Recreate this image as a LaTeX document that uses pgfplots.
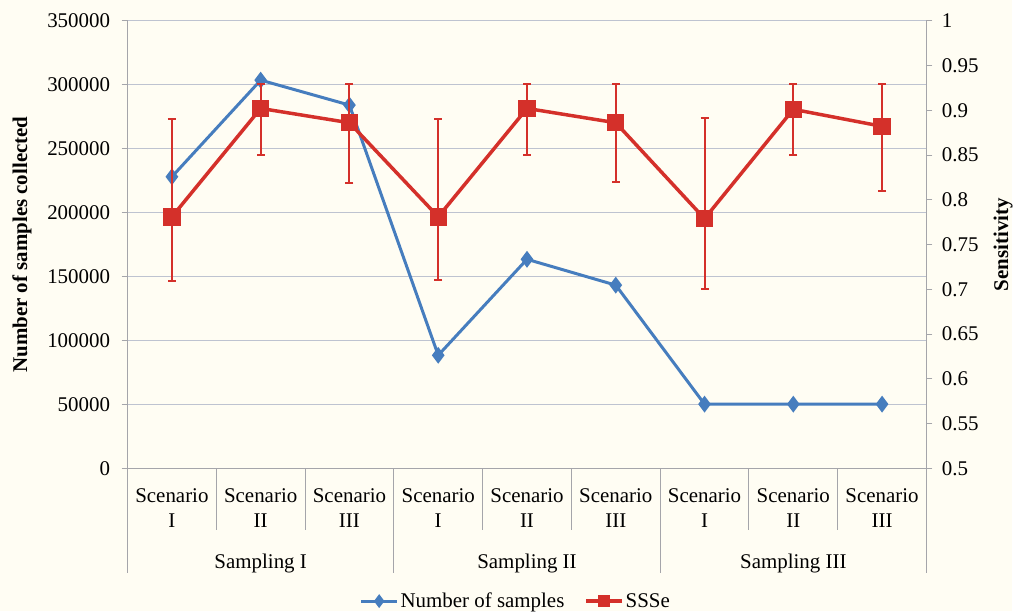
\documentclass[border=0pt]{standalone}
\usepackage{pgfplots}
\pgfplotsset{compat=1.18}
\usepackage{fontspec}
\setmainfont{Liberation Serif}
\definecolor{bgc}{RGB}{255,253,243}
\definecolor{blueline}{RGB}{70,125,190}
\definecolor{redline}{RGB}{212,48,42}
\definecolor{gridc}{RGB}{190,195,208}
\definecolor{axc}{RGB}{165,165,170}
\begin{document}
\begin{tikzpicture}[font=\fontsize{21}{25}\selectfont]
\fill[bgc] (-128pt,-142.7pt) rectangle (888pt,470.3pt);
\begin{axis}[
  at={(0,0)}, anchor=south west,
  scale only axis, width=802pt, height=449.6pt,
  xmin=-0.5, xmax=8.5, ymin=0, ymax=350000,
  axis y line*=left, axis x line*=bottom,
  axis line style={axc, line width=1pt},
  xtick={0,...,8},
  xticklabels={Scenario\\I,Scenario\\II,Scenario\\III,Scenario\\I,Scenario\\II,Scenario\\III,Scenario\\I,Scenario\\II,Scenario\\III},
  xticklabel style={align=center, yshift=-11pt},
  x tick style={draw=none},
  ytick={0,50000,...,350000},
  scaled y ticks=false,
  /pgf/number format/fixed,
  /pgf/number format/1000 sep={},
  /pgf/number format/assume math mode=true,
  yticklabel style={xshift=-8pt},
  y tick style={axc, line width=1pt},
  tick align=outside, major tick length=6pt,
  ymajorgrids, grid style={gridc, line width=1.2pt},
  ylabel={\bfseries Number of samples collected},
  ylabel style={at={(axis description cs:-0.132,0.5)}, anchor=center},
  clip=false,
]
\addplot[blueline, line width=3pt, mark=diamond*, mark size=6pt, mark options={fill=blueline, draw=blueline}] coordinates {
  (0,228000) (1,303500) (2,284000) (3,88500) (4,163500) (5,143300) (6,50300) (7,50300) (8,50300)
};
\foreach \xx in {0.5,1.5,3.5,4.5,6.5,7.5} {
  \edef\tmp{\noexpand\draw[axc, line width=1pt] (axis cs:\xx,0) -- ++(0pt,-62pt);}\tmp
}
\foreach \xx in {-0.5,2.5,5.5,8.5} {
  \edef\tmp{\noexpand\draw[axc, line width=1pt] (axis cs:\xx,0) -- ++(0pt,-105pt);}\tmp
}
\node at (axis cs:1,0) [yshift=-95pt] {Sampling I};
\node at (axis cs:4,0) [yshift=-95pt] {Sampling II};
\node at (axis cs:7,0) [yshift=-95pt] {Sampling III};
\end{axis}
\begin{axis}[
  at={(0,0)}, anchor=south west,
  scale only axis, width=802pt, height=449.6pt,
  xmin=-0.5, xmax=8.5, ymin=0.5, ymax=1,
  axis y line*=right, axis x line=none,
  axis line style={axc, line width=1pt},
  ytick={0.5,0.55,...,1.01},
  /pgf/number format/fixed,
  /pgf/number format/precision=2,
  /pgf/number format/assume math mode=true,
  yticklabel style={anchor=west, xshift=6pt},
  y tick style={axc, line width=1pt},
  tick align=outside, major tick length=6pt,
  ylabel={\bfseries Sensitivity},
  ylabel style={at={(axis description cs:1.096,0.5)}, anchor=center},
  clip=false,
  legend columns=2,
  legend style={at={(axis description cs:0.486,-0.296)}, anchor=center, draw=none, fill=none,
    /tikz/every even column/.append style={column sep=18pt}},
  legend image code/.code={\draw[mark repeat=2, mark phase=2] plot coordinates {(0pt,0pt) (18pt,0pt) (36pt,0pt)};},
]
\addlegendimage{blueline, line width=3pt, mark=diamond*, mark size=4.5pt, mark options={fill=blueline, draw=blueline}}
\addlegendentry{Number of samples}
\addlegendimage{redline, line width=3.5pt, mark=square*, mark size=4.5pt, mark options={fill=redline, draw=redline}}
\addlegendentry{SSSe}
\addplot[forget plot, redline, line width=3.5pt, mark=square*, mark size=7pt, mark options={fill=redline, draw=redline},
  error bars/.cd, y dir=both, y explicit,
  error bar style={redline, line width=2pt},
  error mark options={rotate=90, mark size=4pt, line width=2pt, redline}]
  table[x=x, y=y, y error plus=ep, y error minus=em] {
x y ep em
0 0.781 0.109 0.072
1 0.902 0.027 0.052
2 0.886 0.043 0.067
3 0.781 0.109 0.071
4 0.902 0.027 0.052
5 0.886 0.043 0.066
6 0.779 0.112 0.079
7 0.901 0.028 0.051
8 0.882 0.047 0.072
};
\end{axis}
\end{tikzpicture}
\end{document}
